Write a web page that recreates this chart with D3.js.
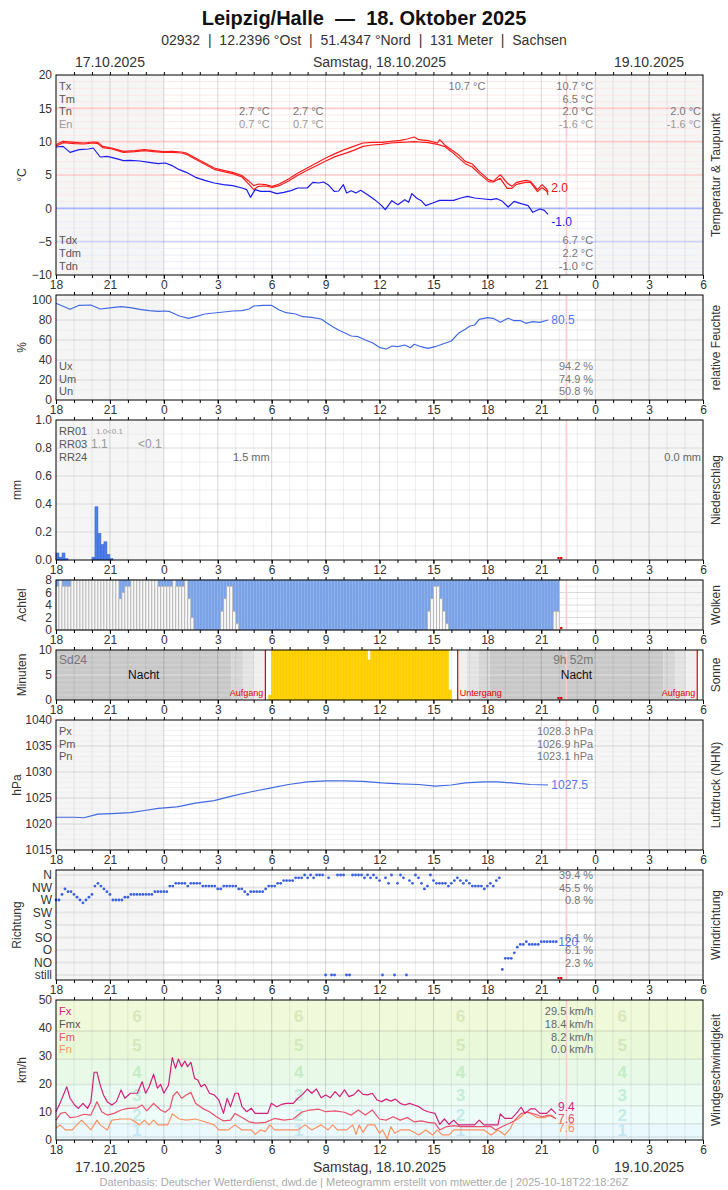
<!DOCTYPE html>
<html>
<head>
<meta charset="utf-8">
<script src="https://cdn.jsdelivr.net/npm/d3@7"></script>
<style>
  body { margin: 0; background: #fff; }
  svg text { font-family: "Liberation Sans", Arial, Helvetica, sans-serif; white-space: pre; }
</style>
</head>
<body>
<svg id="chart" width="728" height="1190"></svg>
<script>
// time is in hours since 17.10.2025 18:00 UTC
var tempHi = [[0,9.55],[0.39,10.05],[1.04,9.9],[1.55,9.8],[2.07,9.95],[2.33,9.9],[2.59,9.3],[3.11,9.05],[3.75,8.55],[4.4,8.65],[4.92,8.8],[5.43,8.65],[5.98,8.5],[6.47,8.55],[6.99,8.45],[7.25,8.3],[7.76,7.55],[8.28,6.8],[8.8,6.05],[9.32,5.7],[9.83,5.4],[10.35,4.9],[10.74,4.05],[11.0,3.4],[11.26,3.65],[11.65,3.55],[12.03,3.3],[12.42,3.65],[12.94,4.4],[13.46,5.3],[13.98,6.05],[14.49,6.8],[15.01,7.55],[15.53,8.2],[16.05,8.8],[16.56,9.3],[17.08,9.8],[17.6,9.9],[18.12,9.9],[18.63,10.05],[19.15,10.2],[19.54,10.4],[19.93,10.7],[20.19,10.3],[20.7,10.15],[21.22,9.8],[21.35,10.3],[21.61,9.55],[22.0,8.8],[22.39,8.05],[22.77,7.05],[23.16,6.65],[23.55,5.55],[24.07,4.3],[24.33,4.05],[24.72,5.05],[25.1,3.8],[25.36,3.3],[25.62,3.9],[26.14,4.2],[26.4,4.05],[26.79,2.8],[27.04,3.55],[27.3,2.9],[27.38,2.4]];
var tempLo = [[0,9.3],[0.39,9.85],[1.04,9.7],[1.55,9.65],[2.07,9.8],[2.33,9.7],[2.59,9.1],[3.11,8.9],[3.75,8.4],[4.4,8.5],[4.92,8.65],[5.43,8.5],[5.98,8.4],[6.47,8.4],[6.99,8.3],[7.25,8.1],[7.76,7.35],[8.28,6.6],[8.8,5.85],[9.32,5.5],[9.83,5.2],[10.35,4.7],[10.74,3.6],[11.0,2.8],[11.26,3.3],[11.65,3.35],[12.03,3.15],[12.42,3.4],[12.94,4.1],[13.46,4.95],[13.98,5.7],[14.49,6.4],[15.01,7.1],[15.53,7.75],[16.05,8.2],[16.56,8.7],[17.08,9.3],[17.6,9.5],[18.12,9.6],[18.63,9.8],[19.15,9.9],[19.54,9.95],[19.93,10.0],[20.19,9.95],[20.7,9.85],[21.22,9.6],[21.61,9.3],[22.0,8.5],[22.39,7.6],[22.77,6.7],[23.16,6.2],[23.55,5.2],[24.07,4.0],[24.33,3.95],[24.72,4.5],[25.1,3.0],[25.36,3.0],[25.62,3.6],[26.14,3.9],[26.4,3.9],[26.79,2.5],[27.04,3.1],[27.3,2.6],[27.38,2.0]];
var dewPoint = [[0,9.2],[0.39,9.3],[0.78,8.4],[1.29,8.8],[1.81,8.9],[2.07,9.05],[2.46,7.7],[2.85,7.8],[3.36,7.45],[3.75,7.15],[4.14,7.2],[4.66,7.1],[5.18,6.9],[5.69,6.7],[6.08,6.8],[6.47,6.4],[6.86,5.8],[7.25,5.4],[7.76,4.65],[8.28,4.2],[8.8,3.8],[9.32,3.55],[9.83,3.4],[10.35,3.05],[10.61,2.8],[10.82,1.65],[11.08,2.8],[11.39,2.55],[11.9,2.55],[12.29,2.2],[12.68,2.4],[13.07,2.65],[13.46,3.05],[13.98,3.05],[14.29,3.9],[14.62,3.8],[14.88,3.95],[15.14,3.55],[15.48,2.55],[15.73,2.6],[15.99,3.55],[16.17,2.3],[16.43,2.65],[16.69,2.3],[16.95,2.7],[17.34,2.05],[17.73,1.3],[18.12,0.4],[18.32,-0.2],[18.69,1.15],[19.02,0.55],[19.41,1.3],[19.62,0.9],[19.8,2.2],[20.06,1.55],[20.32,1.15],[20.57,0.4],[20.96,0.8],[21.35,1.2],[21.74,1.2],[22.13,1.2],[22.52,1.55],[22.9,1.8],[23.29,1.55],[23.81,1.4],[24.2,1.3],[24.53,1.45],[24.84,1.05],[25.16,0.2],[25.49,1.05],[25.88,0.7],[26.27,0.4],[26.53,-0.6],[26.92,-0.1],[27.17,-0.3],[27.38,-0.9]];
var humidity = [[0,96.7],[0.78,90.7],[1.29,94.7],[1.94,95],[2.46,91],[3.11,92.3],[3.62,93.3],[4.14,92.3],[4.66,90.7],[5.18,89.3],[5.69,88.7],[6.08,89],[6.34,88.3],[6.86,84],[7.38,81.7],[7.76,83.3],[8.28,86],[8.8,87],[9.32,88],[9.83,89],[10.35,89.3],[10.74,91],[11.0,94],[11.52,94.7],[11.98,94.7],[12.42,90],[12.81,87.3],[13.33,86],[13.72,83.3],[14.23,82.7],[14.75,81],[15.01,77.7],[15.4,73.3],[15.79,69.3],[16.05,67.3],[16.43,64],[16.82,63.3],[17.21,60],[17.6,57.3],[17.99,52.7],[18.37,51],[18.71,54],[19.02,53.3],[19.41,55],[19.72,52.3],[19.93,55.7],[20.32,53.3],[20.7,51.7],[21.09,53.3],[21.48,55.7],[22.0,59],[22.39,66.7],[22.77,70.7],[23.03,74],[23.29,75],[23.55,80.7],[24.02,82.3],[24.33,81.7],[24.72,77.7],[25.16,81.7],[25.49,79.3],[25.83,79.5],[26.14,76.7],[26.53,78.3],[26.92,77.7],[27.38,80.0]];
var pressure = [[0,1021.3],[1.04,1021.3],[1.55,1021.2],[2.33,1021.9],[3.11,1022.0],[4.14,1022.2],[4.92,1022.6],[5.69,1023.0],[6.73,1023.3],[7.76,1024.0],[8.8,1024.5],[9.83,1025.4],[10.87,1026.2],[11.9,1026.9],[12.94,1027.6],[13.98,1028.1],[15.01,1028.3],[16.05,1028.3],[17.08,1028.2],[18.12,1027.9],[19.15,1027.7],[20.19,1027.6],[21.09,1027.3],[22.0,1027.5],[22.77,1027.9],[23.81,1028.1],[24.59,1028.1],[25.36,1027.9],[26.4,1027.6],[27.38,1027.5]];
var gusts = [[0,10.1],[0.26,13.7],[0.6,19],[0.78,14.9],[1.04,12.5],[1.24,11.3],[1.5,13.1],[1.76,11.3],[1.94,13.7],[2.12,24.2],[2.28,24.2],[2.46,19.6],[2.64,16.1],[2.85,13.7],[3.11,12.5],[3.36,13.7],[3.62,17.9],[3.83,14.9],[4.14,16.7],[4.53,16.7],[4.79,20.8],[4.99,16.7],[5.18,19],[5.43,23.5],[5.64,18.5],[5.82,19.9],[6.0,16.7],[6.26,19.6],[6.47,29.4],[6.65,25.6],[6.81,28.9],[6.99,26.2],[7.17,28.2],[7.32,26.2],[7.51,27.7],[7.71,22],[7.89,21.4],[8.07,19],[8.28,19.9],[8.54,16.7],[8.8,16.1],[9.06,14.3],[9.32,9.5],[9.52,14.9],[9.71,11.9],[9.96,16.7],[10.14,16.7],[10.35,11.9],[10.61,10.1],[10.87,11.3],[11.08,9.5],[11.39,9.5],[11.78,9.5],[11.98,13.1],[12.29,11.9],[12.55,12.7],[12.81,13.1],[13.2,13.1],[13.46,14.9],[13.72,16.3],[13.98,18.2],[14.23,16.7],[14.49,18.2],[14.75,15.1],[15.01,16.1],[15.27,15.1],[15.53,17.3],[15.79,15.5],[16.05,17.9],[16.3,15.5],[16.56,16.1],[16.82,17.9],[17.08,16.3],[17.34,16.1],[17.6,16.7],[17.86,14.3],[18.12,13.7],[18.37,14.6],[18.63,13.9],[18.89,14.6],[19.15,13.1],[19.41,12.5],[19.67,13.1],[19.93,12.5],[20.19,11.9],[20.45,10.7],[20.7,10.1],[21.09,9.5],[21.35,5.6],[21.61,7.5],[21.87,5.6],[22.13,7.1],[22.39,5.4],[22.77,5.4],[23.29,5.4],[23.55,7.1],[23.81,5.4],[24.59,5.4],[24.72,9.3],[24.97,7.7],[25.36,7.7],[25.62,9.5],[25.88,11.7],[26.09,9.5],[26.4,11.1],[26.66,11.1],[26.92,9.5],[27.3,9.5],[27.56,11.1],[27.82,9.4]];
var windMean = [[0,7.1],[0.26,9.5],[0.52,9.9],[0.78,8],[1.16,8.3],[1.55,9.2],[1.94,8.9],[2.28,13.7],[2.54,10.1],[2.85,8.9],[3.23,9.5],[3.62,10.7],[4.01,11.3],[4.53,11.5],[4.79,12.5],[5.05,10.4],[5.43,13.1],[5.82,10.7],[6.08,9.9],[6.34,11.3],[6.52,15.8],[6.73,17.3],[6.99,14.9],[7.25,16.1],[7.51,17],[7.76,13.1],[8.15,11.3],[8.54,10.1],[8.93,8.3],[9.32,6.8],[9.71,7.1],[9.96,9.5],[10.35,8],[10.74,6.5],[11.13,6],[11.65,6.3],[12.16,7.7],[12.68,7.1],[13.2,7.5],[13.66,9.9],[14.1,10.7],[14.62,11],[15.01,10.1],[15.53,10.4],[16.05,9.9],[16.43,8.9],[16.82,10.7],[17.21,8.9],[17.6,10.7],[17.99,7.5],[18.37,7.1],[18.76,8.3],[19.15,7.1],[19.54,8],[19.93,6.5],[20.32,6.8],[20.7,6.3],[21.09,6],[21.35,3.6],[21.74,4.8],[22.13,5.1],[22.52,4.8],[24.2,4.8],[24.46,3.6],[24.84,4.8],[25.23,6],[25.49,6.8],[25.88,9.5],[26.27,9.9],[26.66,9.2],[27.04,8.3],[27.43,8.9],[27.82,7.6]];
var windMin = [[0,4.2],[0.21,5.4],[0.52,3.6],[0.91,3.6],[1.16,5.4],[1.42,7.1],[1.68,5.4],[1.94,3.6],[2.28,7.1],[2.46,5.4],[2.85,3.6],[3.11,7.1],[3.62,7.5],[4.14,7.5],[4.66,5.4],[4.92,7.1],[5.18,5.4],[5.43,7.1],[5.69,5.4],[6.21,5.4],[6.47,9.3],[6.86,7.5],[7.25,7.1],[7.76,7.5],[8.28,6.5],[8.8,5.4],[9.06,3.6],[9.58,3.6],[9.96,5.4],[10.35,3.6],[10.87,3.6],[11.08,2],[11.39,3.6],[11.65,3],[11.9,5.4],[12.16,3.6],[12.94,3.6],[13.46,3.6],[13.85,5.4],[14.23,3.6],[14.75,5.4],[15.14,3.6],[15.4,5.4],[15.66,3.6],[16.17,3.6],[16.51,5.4],[16.69,2],[16.87,5.4],[17.08,2.7],[17.34,5.4],[17.73,5.4],[17.99,2.4],[18.17,3.6],[18.43,0.4],[18.63,4.8],[18.84,2.4],[19.15,3.6],[19.67,3.6],[20.19,1.8],[20.57,3.6],[20.96,1.8],[21.22,3.6],[21.48,1.8],[21.87,1.8],[22.13,3.6],[23.81,3.6],[24.2,1.8],[24.59,3.6],[24.97,1.8],[25.23,3.6],[25.49,6.8],[25.75,7.7],[26.14,9.9],[26.4,9.5],[26.79,8],[27.17,8],[27.56,8.9],[27.82,7.6]];

// 10-minute series, index 0 = 18:00
var rain10 = [0.05,0.02,0.05,0.01,0,0,0,0,0,0,0,0,0.02,0.38,0.19,0.11,0.13,0.04,0.01];
var cloud10 = [
  7,8,7,7,7,8,8,8,8,8,8,8,8,8,8,8,8,8,
  8,8,8,5,6,7,7,8,8,8,8,8,8,8,8,8,7,7,
  7,7,7,8,7,7,7,8,5,2,0,0,0,0,0,0,0,0,
  0,3,5,7,7,3,1,0,0,0,0,0,0,0,0,0,0,0,
  0,0,0,0,0,0,0,0,0,0,0,0,0,0,0,0,0,0,
  0,0,0,0,0,0,0,0,0,0,0,0,0,0,0,0,0,0,
  0,0,0,0,0,0,0,0,0,0,0,0,0,0,0,0,3,5,
  7,7,5,3,1,0,0,0,0,0,0,0,0,0,0,0,0,0,
  0,0,0,0,0,0,0,0,0,0,0,0,0,0,0,0,0,0,
  0,0,0,0,3,3];
var sun10 = [
  0,0,0,0,0,0,0,0,0,0,0,0,0,0,0,0,0,0,
  0,0,0,0,0,0,0,0,0,0,0,0,0,0,0,0,0,0,
  0,0,0,0,0,0,0,0,0,0,0,0,0,0,0,0,0,0,
  0,0,0,0,0,0,0,0,0,0,0,0,0,0,0,0,0,1,
  10,10,10,10,10,10,10,10,10,10,10,10,10,10,10,10,10,10,
  10,10,10,10,10,10,10,10,10,10,10,10,10,10,8,10,10,10,
  10,10,10,10,10,10,10,10,10,10,10,10,10,10,10,10,10,10,
  10,10,10,10,10,2,0,0,0,0,0,0,0,0,0,0,0,0,
  0,0,0,0,0,0,0,0,0,0,0,0,0,0,0,0,0,0,
  0,0,0,0,0,0];
// wind direction in degrees, 0 = calm ("still")
var dir10 = [
  270,270,290,310,300,300,290,280,270,260,270,280,290,320,330,320,310,300,
  290,270,270,270,270,280,280,290,290,290,290,290,290,290,290,300,300,300,
  300,300,320,320,330,330,330,330,320,330,330,330,330,320,320,320,320,320,
  310,310,320,320,320,320,320,310,310,300,290,300,300,300,300,300,310,320,
  320,320,330,330,340,340,340,340,350,350,350,360,350,360,350,360,360,360,
  0,350,0,0,360,360,360,0,0,360,360,360,360,350,360,350,360,350,
  340,0,350,330,360,0,330,360,350,0,340,330,360,350,330,310,320,360,
  340,330,330,330,330,320,330,340,350,340,330,340,330,320,320,320,320,310,
  320,330,320,340,350,20,60,60,60,80,100,110,110,120,110,110,110,110,
  120,120,120,120,120,120];

var dirNames = ["still","NO","O","SO","S","SW","W","NW","N"];
var dirDegrees = [0,45,90,135,180,225,270,315,360];
var dirShare = [["N","39.4 %"],["NW","45.5 %"],["W","0.8 %"],["SO","6.1 %"],["O","6.1 %"],["NO","2.3 %"]];

var bftEdges = [0,1.1,5.8,12.2,19.8,28.8,38.9,50];
var bftLabelHours = [4.5,13.5,22.5,31.5];

var sunPhaseT = [0,9.77,10.42,11.03,11.65,22.35,22.85,23.5,24.12,33.8,34.45,35.07,35.68,36];
var sunPhase = ["night","astro","naut","civil","day","civil","naut","astro","night","astro","naut","civil","day"];
var sunRiseSet = [11.65,22.35,35.68];

var nightRanges = [[0,6],[30,36]];
var nowHour = 28.4;
var dayLabels = [[3,"17.10.2025"],[18,"Samstag, 18.10.2025"],[33,"19.10.2025"]];

// ---------------------------------------------------------------
var FONT = '"Liberation Sans", Arial, Helvetica, sans-serif';
var svg = d3.select("#chart");
var x = d3.scaleLinear().domain([0, 36]).range([56, 703]);

var phaseColor = { night: "#c8c8c8", astro: "#d5d5d5", naut: "#e2e2e2", civil: "#efefef", day: "#ffffff" };
var bftFill = ["#eafafd","#eaf9fd","#edfcf9","#edfcf3","#e9f9e7","#eaf8da","#f0f9d9"];
var bftText = ["#fff","#c6e6f2","#c4ebe5","#c4ecd6","#c6ecc6","#d2e8bc","#d8e8bc"];

var L = {
  temp:  { top: 75,  bottom: 275, domain: [-10, 20],  ticks: [-10,-5,0,5,10,15,20], lx: 22, left: "°C", right: "Temperatur & Taupunkt", night: true },
  hum:   { top: 295, bottom: 400, domain: [0, 105],   ticks: [0,20,40,60,80,100], lx: 22, left: "%", right: "relative Feuchte", night: true },
  rain:  { top: 420, bottom: 560, domain: [0, 1],     ticks: [0,0.2,0.4,0.6,0.8,1], fmt: d3.format(".1f"), lx: 17, left: "mm", right: "Niederschlag", night: true },
  cloud: { top: 580, bottom: 630, domain: [0, 8],     ticks: [0,2,4,6,8], lx: 22, left: "Achtel", right: "Wolken", night: true },
  sun:   { top: 650, bottom: 700, domain: [0, 10],    ticks: [0,5,10], lx: 22, left: "Minuten", right: "Sonne", night: false },
  pres:  { top: 720, bottom: 850, domain: [1015, 1040], ticks: [1015,1020,1025,1030,1035,1040], lx: 17, left: "hPa", right: "Luftdruck (NHN)", night: true },
  dir:   { top: 870, bottom: 980, domain: [-18, 378], ticks: dirDegrees, fmt: function (d) { return dirNames[dirDegrees.indexOf(d)]; }, lx: 17, left: "Richtung", right: "Windrichtung", night: true },
  wind:  { top: 1000, bottom: 1140, domain: [0, 50],  ticks: [0,10,20,30,40,50], lx: 22, left: "km/h", right: "Windgeschwindigkeit", night: false }
};

function txt(g, px, py, s, o) {
  o = o || {};
  return g.append("text").attr("x", px).attr("y", py).text(s)
    .attr("font-size", o.size || 11).attr("fill", o.fill || "#666")
    .attr("text-anchor", o.anchor || "start").attr("font-weight", o.weight || null);
}

function hline(g, p, y, v, color, w) {
  g.append("line").attr("x1", x(0)).attr("x2", x(36)).attr("y1", y(v)).attr("y2", y(v))
    .attr("stroke", color).attr("stroke-width", w || 1);
}

function base(p) {
  var y = d3.scaleLinear().domain(p.domain).range([p.bottom, p.top]);
  var g = svg.append("g");
  g.append("rect").attr("x", x(0)).attr("y", p.top).attr("width", x(36) - x(0))
    .attr("height", p.bottom - p.top).attr("fill", "#fff");
  if (p.night) {
    g.selectAll(null).data(nightRanges).enter().append("rect")
      .attr("x", function (d) { return x(d[0]); }).attr("width", function (d) { return x(d[1]) - x(d[0]); })
      .attr("y", p.top).attr("height", p.bottom - p.top).attr("fill", "#f5f5f5");
  }
  return { g: g, y: y };
}

function vgrid(g, p) {
  g.selectAll(null).data(d3.range(1, 36)).enter().append("line")
    .attr("x1", function (d) { return x(d); }).attr("x2", function (d) { return x(d); })
    .attr("y1", p.top).attr("y2", p.bottom)
    .attr("stroke", "#000").attr("stroke-opacity", function (d) { return d % 3 === 0 ? 0.15 : 0.07; });
  g.append("line").attr("x1", x(nowHour)).attr("x2", x(nowHour)).attr("y1", p.top).attr("y2", p.bottom)
    .attr("stroke", "#ffcccc").attr("stroke-width", 1.5);
}

function frame(g, p, y) {
  g.append("rect").attr("x", x(0)).attr("y", p.top).attr("width", x(36) - x(0))
    .attr("height", p.bottom - p.top).attr("fill", "none").attr("stroke", "#000");
  var major = g.append("g").attr("transform", "translate(0," + p.bottom + ")")
    .call(d3.axisBottom(x).tickValues(d3.range(0, 37, 3)).tickSize(4).tickPadding(1)
      .tickFormat(function (h) { return String((18 + h) % 24); }));
  var minor = g.append("g").attr("transform", "translate(0," + p.bottom + ")")
    .call(d3.axisBottom(x).tickValues(d3.range(0, 37)).tickSize(3).tickFormat(""));
  var topT = g.append("g").attr("transform", "translate(0," + p.top + ")")
    .call(d3.axisTop(x).tickValues(d3.range(1, 36)).tickSize(3).tickFormat(""));
  var left = g.append("g").attr("transform", "translate(" + x(0) + ",0)")
    .call(d3.axisLeft(y).tickValues(p.ticks).tickSize(0).tickPadding(4).tickFormat(p.fmt || d3.format("d")));
  [major, minor, topT, left].forEach(function (a) {
    a.select(".domain").remove();
    a.attr("font-family", FONT).attr("font-size", 12);
    a.selectAll("text").attr("fill", "#333");
  });
  var mid = (p.top + p.bottom) / 2;
  g.append("text").attr("transform", "translate(" + p.lx + "," + mid + ") rotate(-90)")
    .attr("text-anchor", "middle").attr("dy", "0.35em").attr("font-size", 12).attr("fill", "#333").text(p.left);
  g.append("text").attr("transform", "translate(716," + mid + ") rotate(-90)")
    .attr("text-anchor", "middle").attr("dy", "0.35em").attr("font-size", 12).attr("fill", "#333").text(p.right);
}

function pathOf(g, y, data, color, w) {
  g.append("path").datum(data).attr("fill", "none").attr("stroke", color).attr("stroke-width", w || 1.2)
    .attr("stroke-linejoin", "round")
    .attr("d", d3.line().x(function (d) { return x(d[0]); }).y(function (d) { return y(d[1]); }));
}

function gapMarks(g, p, count) {
  var hs = count === 1 ? [28.05] : [27.9, 28.05];
  g.selectAll(null).data(hs).enter().append("rect")
    .attr("x", function (d) { return x(d); }).attr("y", p.bottom - 3).attr("width", 2.2).attr("height", 2.2)
    .attr("fill", "#e00000");
}

// ---- title ----
txt(svg, 364, 25, "Leipzig/Halle  —  18. Oktober 2025", { size: 20, fill: "#111", anchor: "middle", weight: "bold" });
txt(svg, 364, 45, "02932  |  12.2396 °Ost  |  51.4347 °Nord  |  131 Meter  |  Sachsen", { size: 14, fill: "#333", anchor: "middle" });
dayLabels.forEach(function (d) {
  txt(svg, x(d[0]), 67, d[1], { size: 14, fill: "#333", anchor: "middle" });
  txt(svg, x(d[0]), 1172, d[1], { size: 14, fill: "#333", anchor: "middle" });
});
txt(svg, 364, 1186, "Datenbasis: Deutscher Wetterdienst, dwd.de | Meteogramm erstellt von mtwetter.de | 2025-10-18T22:18:26Z", { size: 11, fill: "#aaa", anchor: "middle" });

// ---- temperature ----
(function () {
  var p = L.temp, b = base(p), g = b.g, y = b.y;
  d3.range(-9, 20).forEach(function (v) {
    var major = v % 5 === 0;
    var c = v > 0 ? (major ? "#ffcaca" : "#fde9e9") : (v === 0 ? "#a8b4ff" : (major ? "#cdd4ff" : "#eceefc"));
    hline(g, p, y, v, c, major ? 1.6 : 1);
  });
  vgrid(g, p);
  pathOf(g, y, tempLo, "#ff1a1a", 1.2);
  pathOf(g, y, tempHi, "#ff1a1a", 1.2);
  pathOf(g, y, dewPoint, "#1a1aee", 1.2);
  frame(g, p, y);
  txt(g, x(27.45) + 2, y(2.0) - 3, "2.0", { size: 12, fill: "#ee1111" });
  txt(g, x(27.45) + 2, y(-1.0) + 11, "-1.0", { size: 12, fill: "#1a1aee" });
  var r1 = 90, r2 = 103, r3 = 115, r4 = 128;
  txt(g, 59, r1, "Tx", { fill: "#555" }); txt(g, 59, r2, "Tm", { fill: "#555" });
  txt(g, 59, r3, "Tn", { fill: "#555" }); txt(g, 59, r4, "En", { fill: "#999" });
  txt(g, x(24) - 2, r1, "10.7 °C", { anchor: "end", fill: "#777" });
  txt(g, x(30) - 2, r1, "10.7 °C", { anchor: "end", fill: "#777" });
  txt(g, x(30) - 2, r2, "6.5 °C", { anchor: "end", fill: "#777" });
  txt(g, x(12) - 2, r3, "2.7 °C", { anchor: "end", fill: "#777" });
  txt(g, x(15) - 2, r3, "2.7 °C", { anchor: "end", fill: "#777" });
  txt(g, x(30) - 2, r3, "2.0 °C", { anchor: "end", fill: "#777" });
  txt(g, x(36) - 2, r3, "2.0 °C", { anchor: "end", fill: "#777" });
  txt(g, x(12) - 2, r4, "0.7 °C", { anchor: "end", fill: "#999" });
  txt(g, x(15) - 2, r4, "0.7 °C", { anchor: "end", fill: "#999" });
  txt(g, x(30) - 2, r4, "-1.6 °C", { anchor: "end", fill: "#999" });
  txt(g, x(36) - 2, r4, "-1.6 °C", { anchor: "end", fill: "#999" });
  txt(g, 59, 244, "Tdx", { fill: "#555" }); txt(g, 59, 257, "Tdm", { fill: "#555" }); txt(g, 59, 270, "Tdn", { fill: "#555" });
  txt(g, x(30) - 2, 244, "6.7 °C", { anchor: "end", fill: "#777" });
  txt(g, x(30) - 2, 257, "2.2 °C", { anchor: "end", fill: "#777" });
  txt(g, x(30) - 2, 270, "-1.0 °C", { anchor: "end", fill: "#777" });
})();

// ---- humidity ----
(function () {
  var p = L.hum, b = base(p), g = b.g, y = b.y;
  d3.range(10, 101, 10).forEach(function (v) { hline(g, p, y, v, v % 20 === 0 ? "#d6d6d6" : "#ededed"); });
  vgrid(g, p);
  pathOf(g, y, humidity, "#4169e1", 1.2);
  frame(g, p, y);
  txt(g, x(27.45) + 2, y(80.5) + 4, "80.5", { size: 12, fill: "#5577ee" });
  txt(g, 59, 370, "Ux", { fill: "#555" }); txt(g, 59, 383, "Um", { fill: "#555" }); txt(g, 59, 395, "Un", { fill: "#555" });
  txt(g, x(30) - 2, 370, "94.2 %", { anchor: "end", fill: "#777" });
  txt(g, x(30) - 2, 383, "74.9 %", { anchor: "end", fill: "#777" });
  txt(g, x(30) - 2, 395, "50.8 %", { anchor: "end", fill: "#777" });
})();

// ---- precipitation ----
(function () {
  var p = L.rain, b = base(p), g = b.g, y = b.y;
  d3.range(1, 10).forEach(function (k) { hline(g, p, y, k / 10, k % 2 === 0 ? "#dcdcdc" : "#eeeeee"); });
  vgrid(g, p);
  g.selectAll(null).data(rain10.map(function (v, i) { return [i, v]; }).filter(function (d) { return d[1] > 0; }))
    .enter().append("rect")
    .attr("x", function (d) { return x(d[0] / 6); }).attr("width", x(1 / 6) - x(0))
    .attr("y", function (d) { return y(d[1]); }).attr("height", function (d) { return y(0) - y(d[1]); })
    .attr("fill", "#4f7fe8").attr("stroke", "#2f5fd0").attr("stroke-width", 0.5);
  gapMarks(g, p, 2);
  frame(g, p, y);
  txt(g, 59, 435, "RR01", { fill: "#555" }); txt(g, 59, 448, "RR03", { fill: "#555" }); txt(g, 59, 461, "RR24", { fill: "#555" });
  txt(g, 96, 434, "1.0<0.1", { size: 8, fill: "#999" });
  txt(g, 91, 448, "1.1", { size: 12, fill: "#999" });
  txt(g, 138, 448, "<0.1", { size: 12, fill: "#999" });
  txt(g, x(12) - 2, 461, "1.5 mm", { anchor: "end", fill: "#666" });
  txt(g, x(36) - 2, 461, "0.0 mm", { anchor: "end", fill: "#666" });
})();

// ---- clouds ----
(function () {
  var p = L.cloud, b = base(p), g = b.g, y = b.y;
  [1, 2, 3, 4, 5, 6, 7].forEach(function (v) { hline(g, p, y, v, v % 2 === 0 ? "#dcdcdc" : "#eeeeee"); });
  vgrid(g, p);
  var bw = x(1 / 6) - x(0);
  var cells = g.selectAll(null).data(cloud10.map(function (v, i) { return [i, v]; })).enter();
  cells.append("rect")
    .attr("x", function (d) { return x(d[0] / 6); }).attr("width", bw)
    .attr("y", y(8)).attr("height", function (d) { return y(d[1]) - y(8); })
    .attr("fill", "#7aa2e6").attr("stroke", "#8fb2ec").attr("stroke-width", 0.6);
  cells.filter(function (d) { return d[1] > 0; }).append("rect")
    .attr("x", function (d) { return x(d[0] / 6); }).attr("width", bw)
    .attr("y", function (d) { return y(d[1]); }).attr("height", function (d) { return y(0) - y(d[1]); })
    .attr("fill", "#f8f8f8").attr("stroke", "#aaaaaa").attr("stroke-width", 0.7);
  gapMarks(g, p, 1);
  frame(g, p, y);
})();

// ---- sunshine ----
(function () {
  var p = L.sun, b = base(p), g = b.g, y = b.y;
  g.selectAll(null).data(sunPhase).enter().append("rect")
    .attr("x", function (d, i) { return x(sunPhaseT[i]); })
    .attr("width", function (d, i) { return x(sunPhaseT[i + 1]) - x(sunPhaseT[i]); })
    .attr("y", p.top).attr("height", p.bottom - p.top)
    .attr("fill", function (d) { return phaseColor[d]; });
  d3.range(1, 10).forEach(function (v) {
    g.append("line").attr("x1", x(0)).attr("x2", x(36)).attr("y1", y(v)).attr("y2", y(v))
      .attr("stroke", "#fff").attr("stroke-opacity", v === 5 ? 0.45 : 0.22);
  });
  vgrid(g, p);
  g.selectAll(null).data(sunRiseSet).enter().append("line")
    .attr("x1", function (d) { return x(d); }).attr("x2", function (d) { return x(d); })
    .attr("y1", p.top).attr("y2", p.bottom).attr("stroke", "#e00000").attr("stroke-width", 1.2);
  g.selectAll(null).data(sun10.map(function (v, i) { return [i, v]; }).filter(function (d) { return d[1] > 0; }))
    .enter().append("rect")
    .attr("x", function (d) { return x(d[0] / 6); }).attr("width", x(1 / 6) - x(0))
    .attr("y", function (d) { return y(d[1]); }).attr("height", function (d) { return y(0) - y(d[1]); })
    .attr("fill", "#ffd200").attr("stroke", "#f2c600").attr("stroke-width", 0.5);
  gapMarks(g, p, 2);
  frame(g, p, y);
  txt(g, 59, 664, "Sd24", { size: 12, fill: "#777" });
  txt(g, x(30) - 2, 664, "9h 52m", { size: 12, fill: "#777", anchor: "end" });
  txt(g, x((sunPhaseT[0] + sunPhaseT[1]) / 2), 679, "Nacht", { size: 12, fill: "#111", anchor: "middle" });
  txt(g, x((sunPhaseT[8] + sunPhaseT[9]) / 2), 679, "Nacht", { size: 12, fill: "#111", anchor: "middle" });
  txt(g, x(sunRiseSet[0]) - 2, 696, "Aufgang", { size: 9, fill: "#e00000", anchor: "end" });
  txt(g, x(sunRiseSet[1]) + 2, 696, "Untergang", { size: 9, fill: "#e00000" });
  txt(g, x(sunRiseSet[2]) - 2, 696, "Aufgang", { size: 9, fill: "#e00000", anchor: "end" });
})();

// ---- pressure ----
(function () {
  var p = L.pres, b = base(p), g = b.g, y = b.y;
  d3.range(1016, 1040).forEach(function (v) { hline(g, p, y, v, v % 5 === 0 ? "#d6d6d6" : "#f0f0f0"); });
  vgrid(g, p);
  pathOf(g, y, pressure, "#4169e1", 1.2);
  frame(g, p, y);
  txt(g, x(27.45) + 2, y(1027.5) + 4, "1027.5", { size: 12, fill: "#5577ee" });
  txt(g, 59, 735, "Px", { fill: "#555" }); txt(g, 59, 748, "Pm", { fill: "#555" }); txt(g, 59, 760, "Pn", { fill: "#555" });
  txt(g, x(30) - 2, 735, "1028.3 hPa", { anchor: "end", fill: "#777" });
  txt(g, x(30) - 2, 748, "1026.9 hPa", { anchor: "end", fill: "#777" });
  txt(g, x(30) - 2, 760, "1023.1 hPa", { anchor: "end", fill: "#777" });
})();

// ---- wind direction ----
(function () {
  var p = L.dir, b = base(p), g = b.g, y = b.y;
  dirDegrees.forEach(function (v) { hline(g, p, y, v, "#e6e6e6", 2); });
  vgrid(g, p);
  g.selectAll(null).data(dir10.map(function (v, i) { return [i, v]; })).enter().append("circle")
    .attr("cx", function (d) { return x(d[0] / 6); }).attr("cy", function (d) { return y(d[1]); })
    .attr("r", 1.4).attr("fill", "#3a5fe0");
  gapMarks(g, p, 2);
  frame(g, p, y);
  dirShare.forEach(function (d) {
    txt(g, x(30) - 2, y(dirDegrees[dirNames.indexOf(d[0])]) + 4, d[1], { anchor: "end", fill: "#777" });
  });
  txt(g, x(27.83) + 2, y(120) + 4, "120", { size: 12, fill: "#5577ee" });
})();

// ---- wind speed ----
(function () {
  var p = L.wind, b = base(p), g = b.g, y = b.y;
  g.selectAll(null).data(d3.range(bftEdges.length - 1)).enter().append("rect")
    .attr("x", x(0)).attr("width", x(36) - x(0))
    .attr("y", function (k) { return y(bftEdges[k + 1]); })
    .attr("height", function (k) { return y(bftEdges[k]) - y(bftEdges[k + 1]); })
    .attr("fill", function (k) { return bftFill[k]; });
  bftEdges.slice(1, -1).forEach(function (v) {
    g.append("line").attr("x1", x(0)).attr("x2", x(36)).attr("y1", y(v)).attr("y2", y(v))
      .attr("stroke", "#000").attr("stroke-opacity", 0.09).attr("stroke-width", 1.5);
  });
  d3.range(1, 7).forEach(function (k) {
    bftLabelHours.forEach(function (h) {
      txt(g, x(h), y((bftEdges[k] + bftEdges[k + 1]) / 2) + 6, String(k), { size: 17, fill: bftText[k], anchor: "middle", weight: "bold" });
    });
  });
  vgrid(g, p);
  pathOf(g, y, windMin, "#ff9060", 1.2);
  pathOf(g, y, windMean, "#e8506a", 1.2);
  pathOf(g, y, gusts, "#d41f7a", 1.2);
  frame(g, p, y);
  txt(g, x(27.82) + 2, y(9.4) - 3, "9.4", { size: 12, fill: "#d41f7a" });
  txt(g, x(27.82) + 2, y(7.6) + 4, "7.6", { size: 12, fill: "#e8506a" });
  txt(g, x(27.82) + 2, y(7.6) + 13, "7.6", { size: 12, fill: "#ff9060" });
  txt(g, 59, 1015, "Fx", { fill: "#d41f7a" }); txt(g, 59, 1028, "Fmx", { fill: "#555" });
  txt(g, 59, 1041, "Fm", { fill: "#e8506a" }); txt(g, 59, 1053, "Fn", { fill: "#ff9060" });
  txt(g, x(30) - 2, 1015, "29.5 km/h", { anchor: "end", fill: "#666" });
  txt(g, x(30) - 2, 1028, "18.4 km/h", { anchor: "end", fill: "#666" });
  txt(g, x(30) - 2, 1041, "8.2 km/h", { anchor: "end", fill: "#666" });
  txt(g, x(30) - 2, 1053, "0.0 km/h", { anchor: "end", fill: "#666" });
})();
</script>
</body>
</html>
